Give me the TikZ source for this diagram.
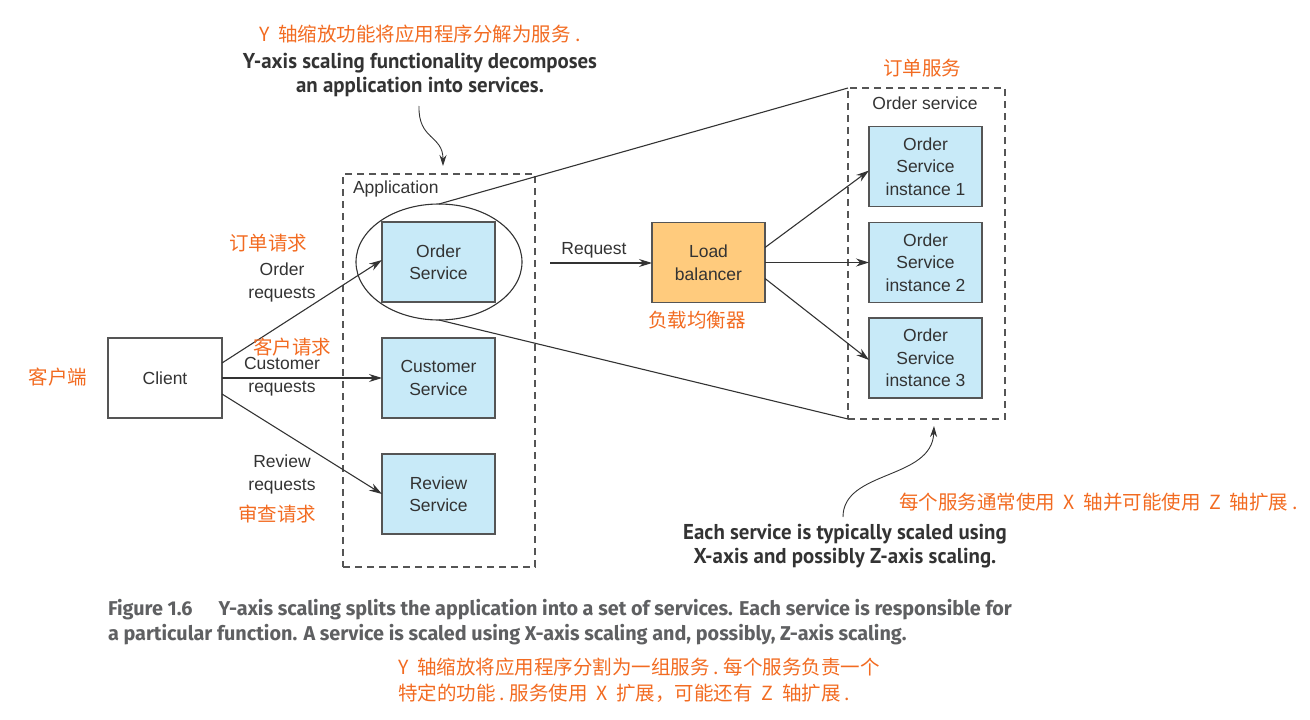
\documentclass[tikz,border=0pt]{standalone}
\usepackage{fontspec}
\setmainfont{Liberation Sans}
\newfontfamily\cjk{Noto Sans CJK SC}
\newfontfamily\callfont[FakeStretch=0.97]{PT Sans}
\newfontfamily\capfont[FakeStretch=0.99]{Fira Sans}
\usetikzlibrary{arrows.meta,shapes.geometric}
\definecolor{cnorange}{HTML}{F26B21}
\definecolor{boxblue}{HTML}{C8EAF8}
\definecolor{lborange}{HTML}{FFCB7D}
\definecolor{linegray}{HTML}{333333}
\definecolor{dashgray}{HTML}{555555}
\definecolor{capgray}{HTML}{5F6062}
\begin{document}
\begin{tikzpicture}[x=1pt,y=-1pt,
  every node/.style={inner sep=0pt,outer sep=0pt},
  svc/.style={draw=dashgray,line width=1.2pt,fill=boxblue,minimum width=113pt,minimum height=80pt,align=center,font=\fontsize{17.5}{22.5}\selectfont,text=linegray},
  plain/.style={draw=dashgray,line width=1.2pt,fill=white,minimum width=114pt,minimum height=80pt,align=center,font=\fontsize{17.5}{22.5}\selectfont,text=linegray},
  group/.style={draw=dashgray,line width=1.2pt,dash pattern=on 7pt off 5pt},
  lbl/.style={align=center,font=\fontsize{17.5}{23}\selectfont,text=linegray},
  cn/.style={font=\cjk\fontsize{19.5}{26}\selectfont,text=cnorange},
  call/.style={align=center,font=\callfont\bfseries\fontsize{21.5}{24}\selectfont,text=linegray},
  arr/.style={draw=linegray,line width=1.1pt,-{Stealth[length=13pt,width=8pt]}},
  ln/.style={draw=linegray,line width=1.1pt}
]
\useasboundingbox (0,0) rectangle (1310,720);

% groups
\node[group,minimum width=192pt,minimum height=393pt] (app) at (439,370.5) {};
\node[anchor=west,lbl] (applbl) at (353,189) {Application};
\node[group,minimum width=157pt,minimum height=331pt] (osg) at (926.5,253.5) {};
\node[lbl] (oslbl) at (925,103) {Order service};

% nodes
\node[plain] (client) at (165,378) {Client};
\node[svc] (order) at (438.5,262) {Order\\Service};
\node[svc] (cust) at (438.5,378) {Customer\\Service};
\node[svc] (rev) at (438.5,494) {Review\\Service};
\node[draw=linegray,line width=1.1pt,ellipse,minimum width=166pt,minimum height=116pt] (ell) at (439,262) {};
\node[svc,fill=lborange] (lb) at (708.5,262.5) {Load\\balancer};
\node[svc] (i1) at (925.5,166.5) {Order\\Service\\instance 1};
\node[svc] (i2) at (925.5,262.5) {Order\\Service\\instance 2};
\node[svc] (i3) at (925.5,358) {Order\\Service\\instance 3};

% client arrows
\draw[arr] ([yshift=15pt]client.east) -- ([yshift=2pt]order.west);
\draw[arr] (client.east) -- (cust.west);
\draw[arr] ([yshift=-16pt]client.east) -- (rev.west);
\node[lbl] (ordreq) at (282,282) {Order\\requests};
\node[lbl] (custreq) at (282,377) {Customer\\requests};
\node[lbl] (revreq) at (282,474) {Review\\requests};

% request arrow
\coordinate (reqstart) at (550,263);
\draw[arr] (reqstart) -- (lb.west |- reqstart);
\node[lbl] (reqlbl) at (594,250) {Request};

% lb arrows
\draw[arr] ([yshift=15pt]lb.east) -- ([yshift=-4pt]i1.west);
\draw[arr] (lb.east) -- (i2.west);
\draw[arr] ([yshift=-16pt]lb.east) -- ([yshift=-2pt]i3.west);

% zoom lines
\draw[ln] (ell.north) -- (osg.north west);
\draw[ln] (ell.south) -- (osg.south west);

% callouts
\node[call] (topcall) at (420,75) {Y-axis scaling functionality decomposes\\an application into services.};
\coordinate (tc1) at (419,106);
\coordinate (tc2) at (443,166);
\draw[draw=linegray,line width=0.9pt,-{Stealth[length=11pt,width=7pt]}] (tc1) .. controls (418,140) and (443,135) .. (tc2);
\node[call] (botcall) at (845,546) {Each service is typically scaled using\\X-axis and possibly Z-axis scaling.};
\coordinate (bc1) at (843,517);
\coordinate (bc2) at (934,426);
\draw[draw=linegray,line width=0.9pt,-{Stealth[length=11pt,width=7pt]}] (bc1) .. controls (843,470) and (932,480) .. (bc2);

% chinese labels
\node[cn] (cntop) at (420,34) {Y\ \ 轴缩放功能将应用程序分解为服务\ .};
\node[cn] (cnos) at (922,68) {订单服务};
\node[cn] (cnord) at (268,243) {订单请求};
\node[cn] (cncust) at (292,347) {客户请求};
\node[cn] (cnrev) at (277,514) {审查请求};
\node[cn] (cnclient) at (58,377) {客户端};
\node[cn] (cnlb) at (697,320) {负载均衡器};
\node[cn,anchor=west] (cnbot) at (899,502) {每个服务通常使用\ \ X\ \ 轴并可能使用\ \ Z\ \ 轴扩展\ .};

% caption
\node[anchor=west,font=\capfont\bfseries\fontsize{20}{24}\selectfont,text=capgray] (cap1) at (108,610) {Figure 1.6\hspace{1.3em}Y-axis scaling splits the application into a set of services. Each service is responsible for};
\node[anchor=west,font=\capfont\bfseries\fontsize{20}{24}\selectfont,text=capgray] (cap2) at (108,635) {a particular function. A service is scaled using X-axis scaling and, possibly, Z-axis scaling.};
\node[cn,anchor=west,font=\cjk\fontsize{19.5}{24}\selectfont] (cncap1) at (398,667) {Y\ \ 轴缩放将应用程序分割为一组服务\ .\ 每个服务负责一个};
\node[cn,anchor=west,font=\cjk\fontsize{19.5}{24}\selectfont] (cncap2) at (398,693) {特定的功能\ .\ 服务使用\ \ X\ \ 扩展，可能还有\ \ Z\ \ 轴扩展\ .};
\end{tikzpicture}
\end{document}
